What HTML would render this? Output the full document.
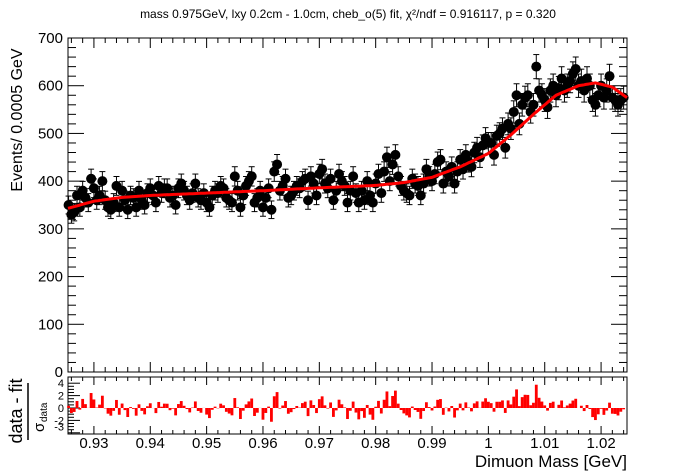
<!DOCTYPE html>
<html><head><meta charset="utf-8"><style>
html,body{margin:0;padding:0;background:#fff}
svg{display:block;font-family:"Liberation Sans",sans-serif}
</style></head><body>
<svg id="c" width="696" height="472" viewBox="0 0 696 472"></svg>
<script>
const binStart = 0.9255, binWidth = 0.0005;
const counts = [
350,330,335,370,345,380,365,355,405,385,
360,370,400,360,345,340,355,390,345,380,
360,340,370,365,345,380,360,350,375,385,
370,355,390,375,385,385,365,370,350,385,
395,380,370,360,375,395,365,360,375,355,
345,370,380,375,390,385,365,360,355,410,
380,345,370,390,400,410,355,365,380,345,
365,385,340,420,435,380,390,405,365,370,
380,390,385,400,405,360,410,395,370,415,
425,395,385,405,360,380,415,400,390,355,
380,410,375,355,380,360,400,370,355,395,
415,375,420,450,400,435,455,410,390,380,
375,370,405,395,390,370,395,425,410,400,
415,440,445,395,420,410,430,395,420,445,
425,455,440,430,460,470,450,475,490,480,
480,455,495,500,510,470,520,510,545,580,
520,560,575,580,545,560,640,590,580,570,
555,590,600,580,595,615,590,600,610,625,
635,600,610,590,615,600,570,560,580,600,
575,590,620,575,570,560,570,575];
const fitX = [0.9254,0.93,0.935,0.94,0.95,0.96,0.97,0.98,0.985,0.99,0.995,1.0,1.004,1.008,1.012,1.016,1.019,1.022,1.0246];
const fitY = [343,358,366,370,375,380,386,391,397,408,430,458,497,540,580,600,606,597,575];
const yTicks = [0,100,200,300,400,500,600,700];
const xTicks = [0.93,0.94,0.95,0.96,0.97,0.98,0.99,1.0,1.01,1.02];
const xTickLabels = ["0.93","0.94","0.95","0.96","0.97","0.98","0.99","1","1.01","1.02"];
const rTicks = [4,2,0,-2,-3];

const NS="http://www.w3.org/2000/svg", svg=document.getElementById('c');
const L=68,R=627,T=38,B=372, RT=377,RB=434,R0=408,RS=6.2;
const X=v=>L+(v-0.9254)/(1.0246-0.9254)*(R-L);
const Y=v=>B-v/700*(B-T);
const RY=v=>R0-v*RS;
function mk(tag,a,txt){const e=document.createElementNS(NS,tag);for(const k in a)e.setAttribute(k,a[k]);if(txt!==undefined)e.textContent=txt;svg.appendChild(e);return e;}
function fitAt(x){for(let i=0;i<fitX.length-1;i++){if(x<=fitX[i+1]){const t=(x-fitX[i])/(fitX[i+1]-fitX[i]);return fitY[i]+(fitY[i+1]-fitY[i])*t;}}return fitY[fitY.length-1];}

let e;
e=mk('text',{x:348,y:18,'text-anchor':'middle','font-size':12},'mass 0.975GeV, lxy 0.2cm - 1.0cm, cheb_o(5) fit, χ²/ndf = 0.916117, p = 0.320');


e=mk('rect',{x:L,y:T,width:R-L,height:B-T,fill:'none',stroke:'#000','stroke-width':1});


e=mk('rect',{x:L,y:RT,width:R-L,height:RB-RT,fill:'none',stroke:'#000','stroke-width':1});



for(let v=0;v<=700;v+=20){const maj=v%100===0,len=maj?16:8;
 mk('line',{x1:L,x2:L+len,y1:Y(v),y2:Y(v),stroke:'#000'});
 mk('line',{x1:R,x2:R-len,y1:Y(v),y2:Y(v),stroke:'#000'});}
yTicks.forEach(v=>{e=mk('text',{x:L-5,y:Y(v)+5,'text-anchor':'end','font-size':15},String(v));
 
 });
for(let k=0;k<=60;k++){const v=0.926+k*0.002;if(v>1.0246)break;const maj=Math.abs((v*100)-Math.round(v*100))<1e-6;const len=maj?10:5;
 mk('line',{x1:X(v),x2:X(v),y1:B,y2:B-len,stroke:'#000'});
 mk('line',{x1:X(v),x2:X(v),y1:T,y2:T+len,stroke:'#000'});
 mk('line',{x1:X(v),x2:X(v),y1:RB,y2:RB-(maj?8:4),stroke:'#000'});
 mk('line',{x1:X(v),x2:X(v),y1:RT,y2:RT+(maj?8:4),stroke:'#000'});}
xTicks.forEach((v,i)=>{e=mk('text',{x:X(v),y:448,'text-anchor':'middle','font-size':15},xTickLabels[i]);
 
 });
for(let v=-4;v<=4;v+=0.5){const len=Number.isInteger(v)&&v%2===0?12:6;
 mk('line',{x1:L,x2:L+len,y1:RY(v),y2:RY(v),stroke:'#000'});}
rTicks.forEach(v=>{e=mk('text',{x:L-4,y:RY(v)+4,'text-anchor':'end','font-size':11},String(v));
 
 });

e=mk('text',{x:0,y:0,'text-anchor':'middle','font-size':16,transform:'translate(22,120) rotate(-90)'},'Events/ 0.0005 GeV');


e=mk('text',{x:627,y:467,'text-anchor':'end','font-size':17},'Dimuon Mass [GeV]');


e=mk('text',{x:0,y:0,'text-anchor':'middle','font-size':18,transform:'translate(22,411) rotate(-90)'},'data - fit');


mk('line',{x1:28,x2:28,y1:383,y2:440,stroke:'#000','stroke-width':1.5});
e=mk('text',{x:0,y:0,'font-size':15,transform:'translate(44,432) rotate(-90)'},'σ');


mk('text',{x:0,y:0,'font-size':10,transform:'translate(47,422) rotate(-90)'},'data');

counts.forEach((c,i)=>{const x=X(binStart+i*binWidth),s=Math.sqrt(c);
 mk('line',{x1:x,x2:x,y1:Y(c-s),y2:Y(c+s),stroke:'#000'});
 mk('line',{x1:x-3,x2:x+3,y1:Y(c+s),y2:Y(c+s),stroke:'#000'});
 mk('line',{x1:x-3,x2:x+3,y1:Y(c-s),y2:Y(c-s),stroke:'#000'});
 e=mk('circle',{cx:x,cy:Y(c),r:5,fill:'#000'});
 
 });
let d='';for(let k=0;k<=300;k++){const x=0.9254+k*(1.0246-0.9254)/300;d+=(k?'L':'M')+X(x).toFixed(1)+','+Y(fitAt(x)).toFixed(1);}
e=mk('path',{d:d,fill:'none',stroke:'#f00','stroke-width':3});


counts.forEach((c,i)=>{const xc=binStart+i*binWidth,r=(c-fitAt(xc))/Math.sqrt(c);
 const x0=X(xc-binWidth/2),x1=X(xc+binWidth/2);
 e=mk('rect',{x:x0,y:Math.min(RY(r),R0),width:x1-x0,height:Math.abs(RY(r)-R0),fill:'#f00'});
 
 });
</script>
</body></html>
